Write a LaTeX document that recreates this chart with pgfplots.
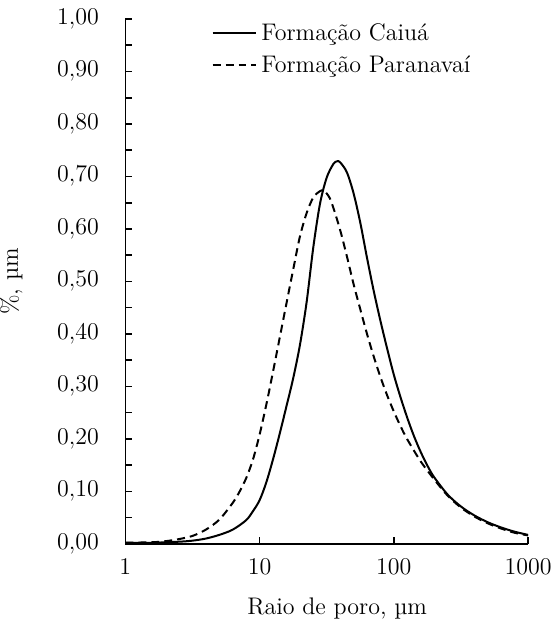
\documentclass[border=0pt]{standalone}
\usepackage{pgfplots}
\pgfplotsset{compat=1.18}
\usepackage{pgfplotstable}

% Formação Caiuá (linha cheia)
\pgfplotstableread{
x y
1 0.002
1.585 0.002
2.512 0.004
3.162 0.006
3.981 0.010
5.012 0.017
6.310 0.027
7.943 0.045
8.913 0.062
10 0.083
11.22 0.117
12.59 0.161
14.13 0.210
15.85 0.262
17.78 0.315
19.95 0.378
22.39 0.460
25.12 0.565
28.18 0.648
31.62 0.698
35.48 0.724
37.84 0.729
39.81 0.727
44.67 0.708
50.12 0.668
56.23 0.612
63.10 0.545
70.79 0.482
79.43 0.425
89.13 0.372
100 0.322
112.2 0.279
125.9 0.240
141.3 0.205
158.5 0.175
177.8 0.149
199.5 0.127
251.2 0.094
316.2 0.071
398.1 0.054
501.2 0.041
631.0 0.031
794.3 0.023
1000 0.017
}\caiua

% Formação Paranavaí (tracejada)
\pgfplotstableread{
x y
1 0.002
1.585 0.003
1.995 0.005
2.512 0.009
3.162 0.015
3.981 0.027
5.012 0.046
6.310 0.078
7.079 0.099
7.943 0.125
8.913 0.160
10 0.208
11.22 0.265
12.59 0.328
14.13 0.393
15.85 0.458
17.78 0.522
19.95 0.585
22.39 0.630
25.12 0.660
28.18 0.672
30.20 0.673
33.11 0.660
35.48 0.640
39.81 0.598
44.67 0.548
50.12 0.495
56.23 0.447
63.10 0.400
70.79 0.357
79.43 0.318
89.13 0.283
100 0.252
112.2 0.224
125.9 0.199
158.5 0.157
199.5 0.123
251.2 0.092
316.2 0.069
398.1 0.052
501.2 0.039
631.0 0.029
794.3 0.021
1000 0.016
}\paranavai

\begin{document}
\begin{tikzpicture}[font=\fontsize{12}{14}\selectfont]
\begin{axis}[
    width=201.5pt, height=262.5pt, scale only axis,
    xmode=log, xmin=1, xmax=1000, ymin=0, ymax=1,
    axis x line=bottom, axis y line=left,
    axis line style={-, line width=0.8pt},
    tick align=inside,
    major tick length=3.5pt, minor tick length=3.5pt,
    tick style={black, line width=0.8pt},
    xtick={1,10,100,1000}, xticklabels={1,10,100,1000},
    xminorticks=false,
    ytick={0,0.1,0.2,0.3,0.4,0.5,0.6,0.7,0.8,0.9,1.0},
    minor y tick num=1,
    yticklabel style={/pgf/number format/fixed, /pgf/number format/fixed zerofill,
        /pgf/number format/precision=2, /pgf/number format/use comma,
        inner xsep=1pt, inner ysep=4.5pt, xshift=-12pt},
    xticklabel style={inner sep=1pt, yshift=-6pt},
    xlabel={Raio de poro, µm},
    ylabel={\%, µm},
    xlabel style={at={(axis description cs:0.526,-0.123)}, anchor=center, inner sep=0pt},
    ylabel style={at={(axis description cs:-0.283,0.5)}, anchor=center, inner sep=0pt},
    legend style={at={(axis description cs:0.213,1.0)}, anchor=north west,
        draw=none, fill=none, inner sep=0pt, row sep=2pt},
    legend cell align=left,
    legend image code/.code={\draw[#1] (0pt,0pt) -- (22pt,0pt);},
]
\addplot[black, line width=1pt, smooth, tension=0.5] table[x=x, y=y] {\caiua};
\addlegendentry{Formação Caiuá}
\addplot[black, line width=1pt, smooth, tension=0.5, dash pattern=on 4pt off 2.5pt] table[x=x, y=y] {\paranavai};
\addlegendentry{Formação Paranavaí}
\end{axis}
\end{tikzpicture}
\end{document}
